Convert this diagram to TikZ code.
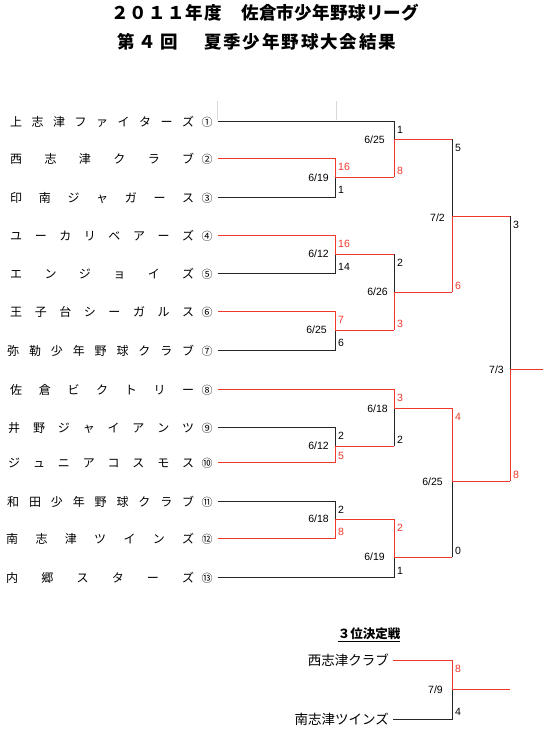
\documentclass[tikz,border=0pt]{standalone}
\usepackage{fontspec}
\setmainfont{Liberation Sans}
\newfontfamily\jp{Noto Sans CJK JP}
\definecolor{lred}{RGB}{240,55,42}
\makeatletter
\def\spr@a#1{#1\spr@b}
\def\spr@b#1{\ifx#1\relax\else\hfill#1\expandafter\spr@b\fi}
\newcommand\spreadtxt[2]{\makebox[#1][s]{\spr@a#2\relax}}
\makeatother
\begin{document}
\begin{tikzpicture}[x=1pt,y=-1pt,
  bk/.style={draw=black!85,line width=1pt},
  rd/.style={draw=lred,line width=1pt},
  sc/.style={font=\fontsize{10.5}{12}\selectfont,inner sep=0pt,anchor=west},
  scr/.style={sc,text=lred},
  dt/.style={font=\fontsize{10.5}{12}\selectfont,inner sep=0pt,anchor=east},
  nm/.style={font=\jp\fontsize{12}{12}\selectfont,inner sep=0pt,anchor=west},
  cn/.style={font=\jp\fontsize{11}{11}\selectfont,inner sep=0pt},
  ttl/.style={font=\jp\bfseries\fontsize{17.5}{18}\selectfont,inner sep=0pt,anchor=west},
  art/.style={draw=black!15,line width=0.8pt}]
\fill[white] (0,0) rectangle (559,745);
\useasboundingbox (0,0) rectangle (559,745);

% title
\node[ttl] (ta) at (111,12.5) {\spreadtxt{111pt}{２０１１年度}};
\node[ttl] (tb) at (241,12.5) {\spreadtxt{178pt}{佐倉市少年野球リーグ}};
\node[ttl] (tc) at (117,41.5) {\spreadtxt{61pt}{第４回}};
\node[ttl] (td) at (204,41.5) {\spreadtxt{192pt}{夏季少年野球大会結果}};

% artifacts
\draw[art] (217,101) -- (217,120);
\draw[art] (336,101) -- (336,120);

% team names
\node[nm] (n1) at (10,122) {\spreadtxt{184pt}{上志津ファイターズ}};
\node[nm] (n2) at (10,159) {\spreadtxt{184pt}{西志津クラブ}};
\node[nm] (n3) at (10,198) {\spreadtxt{184pt}{印南ジャガース}};
\node[nm] (n4) at (10,236) {\spreadtxt{184pt}{ユーカリベアーズ}};
\node[nm] (n5) at (10,274) {\spreadtxt{184pt}{エンジョイズ}};
\node[nm] (n6) at (10,312) {\spreadtxt{184pt}{王子台シーガルス}};
\node[nm] (n7) at (7,351) {\spreadtxt{187pt}{弥勒少年野球クラブ}};
\node[nm] (n8) at (10,390) {\spreadtxt{184pt}{佐倉ビクトリー}};
\node[nm] (n9) at (8,428) {\spreadtxt{186pt}{井野ジャイアンツ}};
\node[nm] (n10) at (8,463) {\spreadtxt{186pt}{ジュニアコスモス}};
\node[nm] (n11) at (7,502) {\spreadtxt{187pt}{和田少年野球クラブ}};
\node[nm] (n12) at (6,539) {\spreadtxt{188pt}{南志津ツインズ}};
\node[nm] (n13) at (6,578) {\spreadtxt{188pt}{内郷スターズ}};

\node[cn] (c1) at (207,122) {①};
\node[cn] (c2) at (207,159) {②};
\node[cn] (c3) at (207,198) {③};
\node[cn] (c4) at (207,236) {④};
\node[cn] (c5) at (207,274) {⑤};
\node[cn] (c6) at (207,312) {⑥};
\node[cn] (c7) at (207,351) {⑦};
\node[cn] (c8) at (207,390) {⑧};
\node[cn] (c9) at (207,428) {⑨};
\node[cn] (c10) at (207,463) {⑩};
\node[cn] (c11) at (207,502) {⑪};
\node[cn] (c12) at (207,539) {⑫};
\node[cn] (c13) at (207,578) {⑬};

% team line starts
\coordinate (t1) at (218,121);
\coordinate (t2) at (218,158);
\coordinate (t3) at (218,197);
\coordinate (t4) at (218,235);
\coordinate (t5) at (218,273);
\coordinate (t6) at (218,311);
\coordinate (t7) at (218,350);
\coordinate (t8) at (218,389);
\coordinate (t9) at (218,427);
\coordinate (t10) at (218,462);
\coordinate (t11) at (218,501);
\coordinate (t12) at (218,538);
\coordinate (t13) at (218,577);

% bracket points
\coordinate (aT) at (335,158); \coordinate (aW) at (335,177); \coordinate (aB) at (335,197);
\coordinate (bT) at (394,121); \coordinate (bW) at (394,139); \coordinate (bB) at (394,177);
\coordinate (cT) at (335,235); \coordinate (cW) at (335,254); \coordinate (cB) at (335,273);
\coordinate (dT) at (335,311); \coordinate (dW) at (335,330); \coordinate (dB) at (335,350);
\coordinate (eT) at (394,254); \coordinate (eW) at (394,292); \coordinate (eB) at (394,330);
\coordinate (fT) at (452,139); \coordinate (fW) at (452,216); \coordinate (fB) at (452,292);
\coordinate (gT) at (335,427); \coordinate (gW) at (335,446); \coordinate (gB) at (335,462);
\coordinate (hT) at (394,389); \coordinate (hW) at (394,408); \coordinate (hB) at (394,446);
\coordinate (iT) at (335,501); \coordinate (iW) at (335,519); \coordinate (iB) at (335,538);
\coordinate (jT) at (394,519); \coordinate (jW) at (394,557); \coordinate (jB) at (394,577);
\coordinate (kT) at (452,408); \coordinate (kW) at (452,481); \coordinate (kB) at (452,557);
\coordinate (lT) at (510,216); \coordinate (lW) at (510,369); \coordinate (lB) at (510,481);
\coordinate (champ) at (543,369);

% connectors
\draw[bk] (t3) -- (aB) -- (aW);
\draw[rd] (t2) -- (aT) -- (aW) -- (bB);
\draw[bk] (t1) -- (bT) -- (bW);
\draw[rd] (bB) -- (bW) -- (fT);
\draw[bk] (t5) -- (cB) -- (cW);
\draw[rd] (t4) -- (cT) -- (cW) -- (eT);
\draw[bk] (t7) -- (dB) -- (dW);
\draw[rd] (t6) -- (dT) -- (dW) -- (eB);
\draw[bk] (eT) -- (eW);
\draw[rd] (eB) -- (eW) -- (fB);
\draw[bk] (fT) -- (fW);
\draw[rd] (fB) -- (fW) -- (lT);
\draw[bk] (t9) -- (gT) -- (gW);
\draw[rd] (t10) -- (gB) -- (gW) -- (hB);
\draw[bk] (hB) -- (hW);
\draw[rd] (t8) -- (hT) -- (hW) -- (kT);
\draw[bk] (t11) -- (iT) -- (iW);
\draw[rd] (t12) -- (iB) -- (iW) -- (jT);
\draw[bk] (t13) -- (jB) -- (jW);
\draw[rd] (jT) -- (jW) -- (kB);
\draw[bk] (kB) -- (kW);
\draw[rd] (kT) -- (kW) -- (lB);
\draw[bk] (lT) -- (lW);
\draw[rd] (lB) -- (lW) -- (champ);

% scores
\node[scr] (sa1) at (338,167) {16}; \node[sc] (sa2) at (338,190) {1};
\node[sc] (sb1) at (397,130) {1}; \node[scr] (sb2) at (397,171) {8};
\node[scr] (sc1) at (338,244) {16}; \node[sc] (sc2) at (338,267) {14};
\node[scr] (sd1) at (338,320) {7}; \node[sc] (sd2) at (338,343) {6};
\node[sc] (se1) at (397,263) {2}; \node[scr] (se2) at (397,324) {3};
\node[sc] (sf1) at (455,148) {5}; \node[scr] (sf2) at (455,286) {6};
\node[sc] (sg1) at (338,436) {2}; \node[scr] (sg2) at (338,456) {5};
\node[scr] (sh1) at (397,398) {3}; \node[sc] (sh2) at (397,440) {2};
\node[sc] (si1) at (338,510) {2}; \node[scr] (si2) at (338,532) {8};
\node[scr] (sj1) at (397,528) {2}; \node[sc] (sj2) at (397,571) {1};
\node[scr] (sk1) at (455,417) {4}; \node[sc] (sk2) at (455,551) {0};
\node[sc] (sl1) at (513,225) {3}; \node[scr] (sl2) at (513,475) {8};

% dates
\node[dt] (da) at (329,178) {6/19};
\node[dt] (db) at (385,140) {6/25};
\node[dt] (dc) at (329,254) {6/12};
\node[dt] (dd) at (327,330) {6/25};
\node[dt] (de) at (388,292) {6/26};
\node[dt] (df) at (445,218) {7/2};
\node[dt] (dg) at (329,446) {6/12};
\node[dt] (dh) at (388,409) {6/18};
\node[dt] (di) at (329,519) {6/18};
\node[dt] (dj) at (385,557) {6/19};
\node[dt] (dk) at (443,482) {6/25};
\node[dt] (dl) at (504,370) {7/3};

% third place
\node[font=\jp\bfseries\fontsize{12.5}{13}\selectfont,inner sep=0pt] (hdr) at (369,635) {\underline{３位決定戦}};
\node[font=\jp\fontsize{13.5}{14}\selectfont,inner sep=0pt,anchor=east] (p1n) at (389,660) {西志津クラブ};
\node[font=\jp\fontsize{13.5}{14}\selectfont,inner sep=0pt,anchor=east] (p2n) at (389,719) {南志津ツインズ};
\coordinate (p1) at (393,660);
\coordinate (p2) at (393,719);
\coordinate (qT) at (452,660); \coordinate (qW) at (452,689); \coordinate (qB) at (452,719);
\coordinate (qo) at (510,689);
\draw[bk] (p2) -- (qB) -- (qW);
\draw[rd] (p1) -- (qT) -- (qW) -- (qo);
\node[scr] (sq1) at (455,669) {8}; \node[sc] (sq2) at (455,712) {4};
\node[dt] (dq) at (443,690) {7/9};
\end{tikzpicture}
\end{document}
